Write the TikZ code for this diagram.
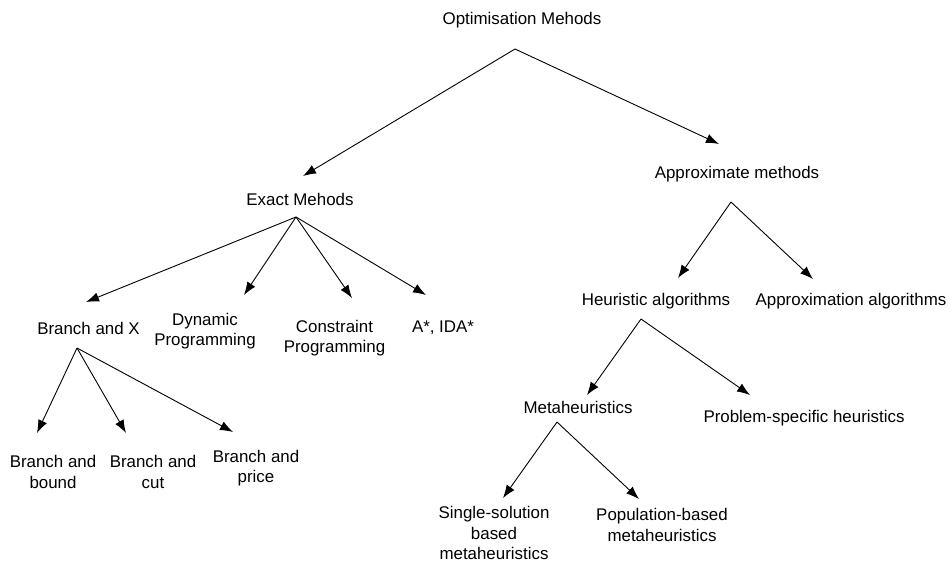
\documentclass[tikz,border=0pt]{standalone}
\usepackage{fontspec}
\setmainfont{Liberation Sans}
\usetikzlibrary{arrows.meta}

\begin{document}
\begin{tikzpicture}[x=1pt, y=-1pt,
every node/.style={align=center, inner sep=0pt, font=\fontsize{16.9}{20.2}\selectfont},
arr/.style={draw, line width=0.9pt, -{Latex[length=13pt,width=9.5pt]}}]
\useasboundingbox (0,0) rectangle (949,563);
\node (opt) at (522,20) {Optimisation Mehods};
\node (exact) at (300,199) {Exact Mehods};
\node (approx) at (737,174) {Approximate methods};
\node (bx) at (88.5,328) {Branch and X};
\node (dyn) at (205,331) {Dynamic\\Programming};
\node (con) at (334.5,338) {Constraint\\Programming};
\node (ida) at (443,328) {A*, IDA*};
\node (bb) at (53,472) {Branch and\\bound};
\node (bc) at (153,472) {Branch and\\cut};
\node (bp) at (256,468) {Branch and\\price};
\node (heur) at (656,301) {Heuristic algorithms};
\node (appalg) at (851,301) {Approximation algorithms};
\node (meta) at (578,407) {Metaheuristics};
\node (prob) at (804,418) {Problem-specific heuristics};
\node (single) at (494,533) {Single-solution\\based\\metaheuristics};
\node (pop) at (662,525) {Population-based\\metaheuristics};
\path [arr] ([shift={(-7,29)}]opt.center) -- ([shift={(3,-23)}]exact.center);
\path [arr] ([shift={(-7,29)}]opt.center) -- ([shift={(-18,-30)}]approx.center);
\path [arr] ([shift={(-4,18)}]exact.center) -- ([shift={(-2.5,-26)}]bx.center);
\path [arr] ([shift={(-4,18)}]exact.center) -- ([shift={(39,-36)}]dyn.center);
\path [arr] ([shift={(-4,18)}]exact.center) -- ([shift={(17.5,-40)}]con.center);
\path [arr] ([shift={(-4,18)}]exact.center) -- ([shift={(-17,-33)}]ida.center);
\path [arr] ([shift={(-11.5,20)}]bx.center) -- ([shift={(-16,-39)}]bb.center);
\path [arr] ([shift={(-11.5,20)}]bx.center) -- ([shift={(-27,-39)}]bc.center);
\path [arr] ([shift={(-11.5,20)}]bx.center) -- ([shift={(-23,-36)}]bp.center);
\path [arr] ([shift={(-6,28)}]approx.center) -- ([shift={(22,-23)}]heur.center);
\path [arr] ([shift={(-6,28)}]approx.center) -- ([shift={(-38,-22)}]appalg.center);
\path [arr] ([shift={(-15,18)}]heur.center) -- ([shift={(9,-12)}]meta.center);
\path [arr] ([shift={(-15,18)}]heur.center) -- ([shift={(-54,-23)}]prob.center);
\path [arr] ([shift={(-21,15)}]meta.center) -- ([shift={(9,-35)}]single.center);
\path [arr] ([shift={(-21,15)}]meta.center) -- ([shift={(-23,-26)}]pop.center);
\end{tikzpicture}
\end{document}
